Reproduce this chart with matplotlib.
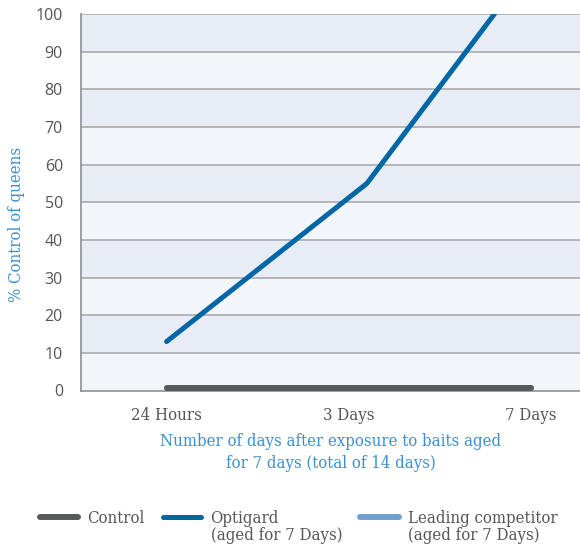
import matplotlib
matplotlib.use("Agg")
import matplotlib.pyplot as plt
from matplotlib.lines import Line2D

# categories on the x axis
days = ["24 Hours", "3 Days", "7 Days"]

# series (x positions, in category units)
control_x = [0, 1, 2]
control_y = [0.6, 0.6, 0.6]
optigard_x = [0, 1.1, 1.8]
optigard_y = [13, 55, 100]
competitor_x = [0, 1, 2]
competitor_y = [0.6, 0.6, 0.6]

y_ticks = list(range(0, 101, 10))

grey = "#58595b"
blue = "#0067a6"
light_blue = "#6fa1d0"
label_blue = "#3b8fd1"
text_grey = "#555555"
slab = {"family": "DejaVu Serif", "stretch": "condensed"}

fig = plt.figure(figsize=(5.8, 5.46), dpi=100)
ax = fig.add_axes([81 / 580, 1 - 390.5 / 546, 1 - 81 / 580, (390.5 - 14) / 546])

# alternating horizontal bands
for lo in range(0, 100, 10):
    shade = "#e8ecf5" if (lo // 10) % 2 == 1 else "#f2f5fa"
    ax.axhspan(lo, lo + 10, color=shade, zorder=0, lw=0)
for t in y_ticks[1:]:
    ax.axhline(t, color="#a4a5a9", lw=1.1, zorder=1)

l_comp, = ax.plot(competitor_x, competitor_y, color=light_blue, lw=4.3,
                  solid_capstyle="round", zorder=2)
l_ctrl, = ax.plot(control_x, control_y, color=grey, lw=4.3,
                  solid_capstyle="round", zorder=3)
l_opti, = ax.plot(optigard_x, optigard_y, color=blue, lw=3.6,
                  solid_capstyle="round", zorder=4)

ax.set_xlim(-0.47, 2.27)
ax.set_ylim(0, 100)
ax.set_yticks(y_ticks)
ax.set_yticklabels([str(t) for t in y_ticks], family="Open Sans", fontsize=11.5, color=text_grey)
ax.set_xticks(range(len(days)))
ax.set_xticklabels(days, fontsize=12, color=text_grey, **slab)
ax.tick_params(axis="both", length=0)
ax.tick_params(axis="y", pad=13)
ax.tick_params(axis="x", pad=12)

for s in ["top", "right"]:
    ax.spines[s].set_visible(False)
for s in ["left", "bottom"]:
    ax.spines[s].set_color("#8e8f93")
    ax.spines[s].set_linewidth(1.2)

ax.set_ylabel("% Control of queens", fontsize=12, color=label_blue, **slab)
ax.yaxis.set_label_coords(-0.112, 0.44)
ax.set_xlabel("Number of days after exposure to baits aged\nfor 7 days (total of 14 days)",
              fontsize=12, color=label_blue, labelpad=6, linespacing=1.45, **slab)

# legend: two rows, second row holds the wrapped part of the labels
blank = Line2D([], [], color="none")
handles = [l_ctrl, blank, l_opti, blank, l_comp, blank]
labels = ["Control", "", "Optigard", "(aged for 7 Days)",
          "Leading competitor", "(aged for 7 Days)"]
leg = fig.legend(handles, labels, loc="upper center", bbox_to_anchor=(0.515, 0.094),
                 ncol=3, frameon=False, prop={**slab, "size": 12}, handlelength=2.3,
                 handletextpad=0.55, columnspacing=1.1, labelspacing=0.02)
for t in leg.get_texts():
    t.set_color(text_grey)

fig.savefig("out.png", dpi=100)
